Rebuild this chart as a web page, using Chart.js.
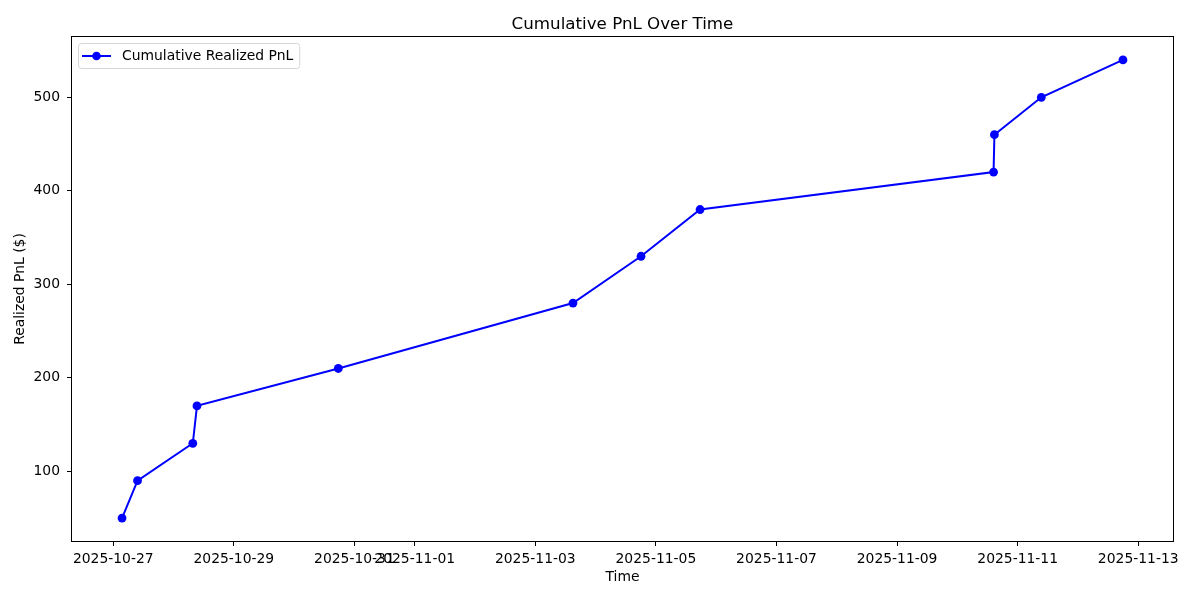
<!DOCTYPE html>
<html>
<head>
<meta charset="utf-8">
<script src="https://cdn.jsdelivr.net/npm/chart.js@4"></script>
<style>
  html, body { margin: 0; padding: 0; background: #fff; }
  #wrap { width: 1200px; height: 600px; }
</style>
</head>
<body>
<div id="wrap"><canvas id="graph" width="1200" height="600"></canvas></div>
<script>
// Trade close times and running PnL
var times = ["2025-10-27 03:30", "2025-10-27 09:40", "2025-10-28 07:40", "2025-10-28 09:20",
	"2025-10-30 17:35", "2025-11-03 15:00", "2025-11-04 18:05", "2025-11-05 17:35",
	"2025-11-10 14:25", "2025-11-10 14:45", "2025-11-11 09:25", "2025-11-12 17:55"];
var pnl = [50, 90, 130, 170, 210, 280, 330, 380, 420, 460, 500, 540];

// Axis ticks
var xTickLabels = ["2025-10-27", "2025-10-29", "2025-10-31", "2025-11-01", "2025-11-03",
	"2025-11-05", "2025-11-07", "2025-11-09", "2025-11-11", "2025-11-13"];
var yTicks = [100, 200, 300, 400, 500];

var line_color = "#0000FF";
var font_family = "'DejaVu Sans', sans-serif";

// "YYYY-MM-DD[ HH:MM]" -> days (UTC), so the linear scale works like a date axis
function toDays(s) {
	var d = s.split(" ")[0].split("-").map(Number);
	var t = (s.split(" ")[1] || "00:00").split(":").map(Number);
	return Date.UTC(d[0], d[1] - 1, d[2], t[0], t[1]) / 86400000;
}

var points = times.map(function(t, i) { return {x: toDays(t), y: pnl[i]}; });

// matplotlib style 5% margins
var xs = points.map(function(p) { return p.x; });
var x_min = Math.min.apply(Math, xs), x_max = Math.max.apply(Math, xs);
var x_pad = (x_max - x_min) * 0.05;
var y_min = Math.min.apply(Math, pnl), y_max = Math.max.apply(Math, pnl);
var y_pad = (y_max - y_min) * 0.05;

// Title, frame and legend drawn like matplotlib
var mplDecor = {
	id: "mplDecor",
	afterDraw: function(chart) {
		var ctx = chart.ctx, a = chart.chartArea;
		ctx.save();
		// spines
		ctx.strokeStyle = "#000";
		ctx.lineWidth = 1;
		ctx.strokeRect(Math.round(a.left) - 0.5, Math.round(a.top) - 0.5,
			Math.round(a.right - a.left) + 1, Math.round(a.bottom - a.top) + 1);
		// title
		ctx.fillStyle = "#000";
		ctx.font = "16.7px " + font_family;
		ctx.textAlign = "center";
		ctx.textBaseline = "alphabetic";
		ctx.fillText("Cumulative PnL Over Time", (a.left + a.right) / 2, a.top - 8.5);
		// legend
		var label = chart.data.datasets[0].label;
		ctx.font = "13.9px " + font_family;
		var tw = ctx.measureText(label).width;
		var bx = a.left + 6.5, by = a.top + 6.5, bw = 43.5 + tw + 6.5, bh = 25;
		ctx.beginPath();
		ctx.roundRect(bx, by, bw, bh, 3);
		ctx.fillStyle = "rgba(255,255,255,0.8)";
		ctx.fill();
		ctx.strokeStyle = "#d6d6d6";
		ctx.stroke();
		var cy = by + bh / 2;
		ctx.strokeStyle = line_color;
		ctx.lineWidth = 2;
		ctx.beginPath();
		ctx.moveTo(bx + 3.5, cy);
		ctx.lineTo(bx + 32.5, cy);
		ctx.stroke();
		ctx.fillStyle = line_color;
		ctx.beginPath();
		ctx.arc(bx + 18, cy, 4.3, 0, Math.PI * 2);
		ctx.fill();
		ctx.fillStyle = "#000";
		ctx.textAlign = "left";
		ctx.textBaseline = "middle";
		ctx.fillText(label, bx + 43.5, cy + 0.5);
		ctx.restore();
	}
};

var canvas = document.getElementById("graph").getContext("2d");
var graph = new Chart(canvas, {
	type: "line",
	data: {
		datasets: [
			{
				label: "Cumulative Realized PnL",
				data: points,
				borderColor: line_color,
				borderWidth: 2,
				backgroundColor: line_color,
				pointBackgroundColor: line_color,
				pointBorderWidth: 0,
				pointRadius: 4.4,
				tension: 0,
				fill: false
			}
		]
	},
	plugins: [mplDecor],
	options: {
		responsive: false,
		animation: false,
		layout: { padding: { top: 37, right: 27, left: 0, bottom: 0 } },
		plugins: {
			legend: { display: false },
			title: { display: false },
			tooltip: { enabled: false }
		},
		scales: {
			x: {
				type: "linear",
				min: x_min - x_pad,
				max: x_max + x_pad,
				afterBuildTicks: function(scale) {
					scale.ticks = xTickLabels.map(function(l) { return {value: toDays(l)}; });
				},
				afterFit: function(scale) { scale.height = 59; },
				grid: { drawOnChartArea: false, drawTicks: true, tickLength: 5, tickColor: "#000", tickWidth: 1 },
				border: { display: false },
				ticks: {
					autoSkip: false,
					maxRotation: 0,
					minRotation: 0,
					padding: 5,
					color: "#000",
					font: { family: font_family, size: 13.9 },
					callback: function(value, index) { return xTickLabels[index]; }
				},
				title: {
					display: true,
					text: "Time",
					color: "#000",
					font: { family: font_family, size: 13.9 },
					padding: { top: 0, bottom: 14 }
				}
			},
			y: {
				type: "linear",
				min: y_min - y_pad,
				max: y_max + y_pad,
				afterBuildTicks: function(scale) {
					scale.ticks = yTicks.map(function(v) { return {value: v}; });
				},
				afterFit: function(scale) { scale.width = 72; },
				grid: { drawOnChartArea: false, drawTicks: true, tickLength: 5, tickColor: "#000", tickWidth: 1 },
				border: { display: false },
				ticks: {
					padding: 7,
					color: "#000",
					font: { family: font_family, size: 13.9 }
				},
				title: {
					display: true,
					text: "Realized PnL ($)",
					color: "#000",
					font: { family: font_family, size: 13.9 },
					padding: { top: 12, bottom: 0 }
				}
			}
		}
	}
});
</script>
</body>
</html>
